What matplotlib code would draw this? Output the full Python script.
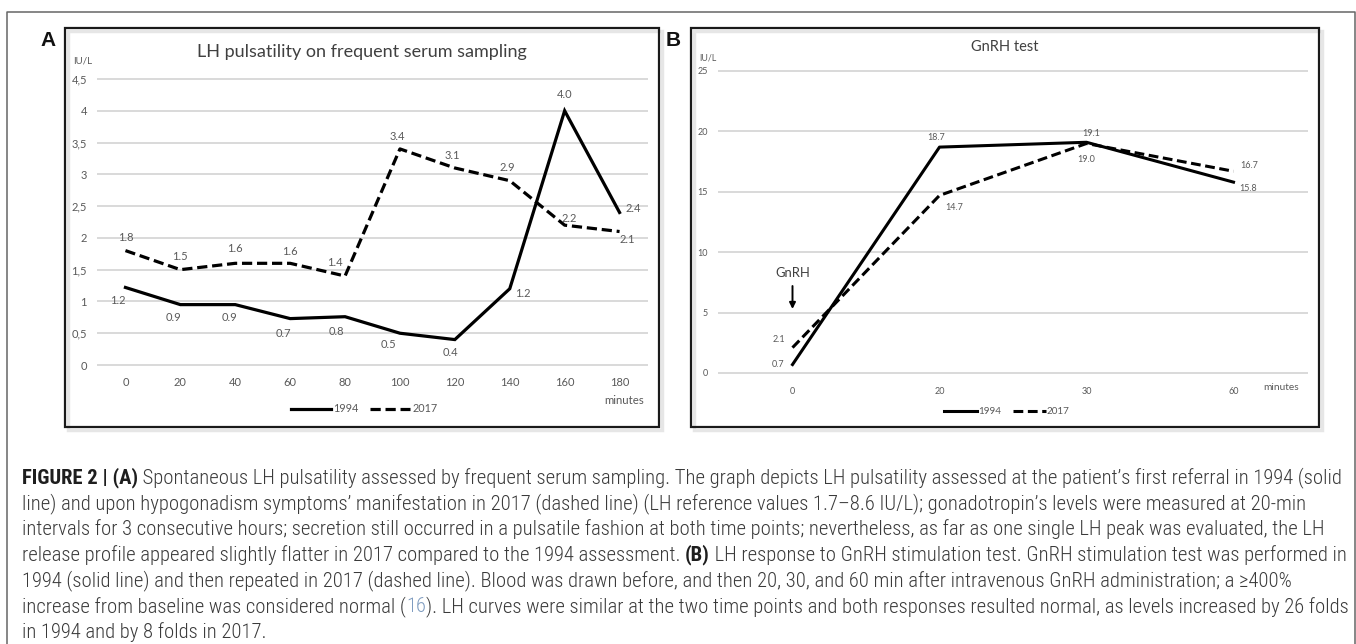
import matplotlib
matplotlib.use("Agg")
import matplotlib.pyplot as plt
from matplotlib.patches import Rectangle
from matplotlib.lines import Line2D
from matplotlib import font_manager

# ---------------- data ----------------
a_minutes = ["0", "20", "40", "60", "80", "100", "120", "140", "160", "180"]
a_lh_1994 = [1.22, 0.95, 0.95, 0.73, 0.76, 0.50, 0.40, 1.20, 4.00, 2.40]
a_lh_2017 = [1.80, 1.50, 1.60, 1.60, 1.40, 3.40, 3.10, 2.90, 2.20, 2.10]
a_labels_1994 = ["1.2", "0.9", "0.9", "0.7", "0.8", "0.5", "0.4", "1.2", "4.0", "2.4"]
a_labels_2017 = ["1.8", "1.5", "1.6", "1.6", "1.4", "3.4", "3.1", "2.9", "2.2", "2.1"]
a_yticks = [0, 0.5, 1, 1.5, 2, 2.5, 3, 3.5, 4, 4.5]
a_ytick_labels = ["0", "0,5", "1", "1,5", "2", "2,5", "3", "3,5", "4", "4,5"]

b_minutes = ["0", "20", "30", "60"]
b_lh_1994 = [0.7, 18.7, 19.1, 15.8]
b_lh_2017 = [2.1, 14.7, 19.0, 16.7]
b_yticks = [0, 5, 10, 15, 20, 25]

series_names = ["1994", "2017"]

# ---------------- layout helpers ----------------
W, H = 1356, 644
fig = plt.figure(figsize=(W / 100, H / 100), dpi=100)
fig.patch.set_facecolor("white")
R = fig.canvas.get_renderer()

def fx(px):
    return px / W

def fy(py):
    return 1 - py / H

fonts = font_manager.fontManager.ttflist
names = {f.name for f in fonts}
CHART_FONT = ["Lato", "DejaVu Sans"]
CAP_FONT = ["Roboto", "DejaVu Sans"]
CAP_STRETCH = "normal"
for cand in ["Roboto Condensed", "Liberation Sans Narrow", "Open Sans Condensed"]:
    if cand in names:
        CAP_FONT = [cand, "DejaVu Sans"]
        break
else:
    if any(f.name == "DejaVu Sans" and f.stretch == "condensed" for f in fonts):
        CAP_FONT = ["DejaVu Sans"]
        CAP_STRETCH = "condensed"
has_light = any(f.name == CAP_FONT[0] and f.weight in (300, "light") for f in fonts)
CAP_NORMAL_WEIGHT = "light" if has_light else "normal"
GRAY = "#595959"
DARK = "#404040"

# outer frame (open at bottom)
fig.add_artist(Line2D([fx(7), fx(7), fx(1354.5), fx(1354.5)],
                      [fy(650), fy(12), fy(12), fy(650)],
                      transform=fig.transFigure, color="#666666", lw=1.1))

# panel boxes
for (x0, x1) in [(65, 659), (691, 1319)]:
    fig.add_artist(Rectangle((fx(x0 + 3), fy(430)), fx(x1 - x0), (430 - 31) / H,
                             transform=fig.transFigure, fill=False,
                             edgecolor="#e6e6e6", lw=2.5))
    fig.add_artist(Rectangle((fx(x0), fy(427)), fx(x1 - x0), (427 - 28) / H,
                             transform=fig.transFigure, fill=False,
                             edgecolor="#1a1a1a", lw=1.6))

fig.text(fx(48), fy(40), "A", fontsize=15, fontweight="bold", ha="center",
         va="center", family=["Liberation Sans", "DejaVu Sans"], color="#111111")
fig.text(fx(673), fy(40), "B", fontsize=15, fontweight="bold", ha="center",
         va="center", family=["Liberation Sans", "DejaVu Sans"], color="#111111")


def fit_width(t, target):
    bb = t.get_window_extent(R)
    t.set_fontsize(t.get_fontsize() * target / bb.width)


def style_axes(ax):
    for s in ax.spines.values():
        s.set_visible(False)
    ax.set_facecolor("none")
    ax.yaxis.grid(True, color="#d9d9d9", lw=1.4)
    ax.set_axisbelow(True)
    ax.tick_params(length=0, colors=GRAY)
    for gl in ax.get_ygridlines():
        gl.set_clip_on(False)


# ---------------- panel A ----------------
axA = fig.add_axes([fx(98), fy(365), (647 - 98) / W, (365 - 79) / H])
xa = list(range(len(a_minutes)))
axA.plot(xa, a_lh_1994, color="black", lw=2.3, solid_joinstyle="miter", clip_on=False)
axA.plot(xa, a_lh_2017, color="black", lw=2.3, ls=(0, (3.2, 1.5)), clip_on=False)
axA.set_xlim(-0.5, len(a_minutes) - 0.5)
axA.set_ylim(0, 4.5)
axA.set_yticks(a_yticks, a_ytick_labels)
axA.set_xticks(xa, a_minutes)
style_axes(axA)
axA.tick_params(axis="y", pad=8, labelsize=8)
axA.tick_params(axis="x", pad=9, labelsize=8)
for lab in axA.get_xticklabels() + axA.get_yticklabels():
    lab.set_family(CHART_FONT)
    lab.set_color(GRAY)

off_a_1994 = [(-8, -13), (-7, -13), (-6, -13), (-7, -15), (-9, -15),
              (-12, -11), (-4, -13), (13, -5), (0, 16), (14, 4)]
off_a_2017 = [(0, 13), (0, 13), (0, 15), (0, 12), (-10, 14),
              (-3, 12), (-3, 12), (-2, 13), (5, 7), (8, -8)]
for i in xa:
    axA.annotate(a_labels_1994[i], (i, a_lh_1994[i]), xytext=off_a_1994[i],
                 textcoords="offset pixels", ha="center", va="center",
                 fontsize=8, color=GRAY, family=CHART_FONT)
    axA.annotate(a_labels_2017[i], (i, a_lh_2017[i]), xytext=off_a_2017[i],
                 textcoords="offset pixels", ha="center", va="center",
                 fontsize=8, color=GRAY, family=CHART_FONT)

tA = fig.text(fx(362), fy(52), "LH pulsatility on frequent serum sampling",
              ha="center", va="center", fontsize=12, color=DARK, family=CHART_FONT)
fit_width(tA, 328)
fig.text(fx(73), fy(61), "IU/L", ha="left", va="center", fontsize=7,
         color=GRAY, family=CHART_FONT)
fig.text(fx(624), fy(401), "minutes", ha="center", va="center", fontsize=8.2,
         color=GRAY, family=CHART_FONT)

handlesA = [Line2D([], [], color="black", lw=2.3),
            Line2D([], [], color="black", lw=2.3, ls=(0, (3.2, 1.5)))]
legA = axA.legend(handlesA, series_names, loc="center",
                  bbox_to_anchor=(fx(364), fy(409)), bbox_transform=fig.transFigure,
                  ncol=2, frameon=False, fontsize=7.8, handlelength=3.7,
                  handletextpad=0.2, columnspacing=1.1, borderpad=0)
for t in legA.get_texts():
    t.set_color(GRAY)
    t.set_family(CHART_FONT)

# ---------------- panel B ----------------
axB = fig.add_axes([fx(719), fy(373), (1307 - 719) / W, (373 - 71) / H])
xb = list(range(len(b_minutes)))
axB.plot(xb, b_lh_1994, color="black", lw=2.2, clip_on=False)
axB.plot(xb, b_lh_2017, color="black", lw=2.2, ls=(0, (3.2, 1.5)), clip_on=False)
axB.set_xlim(-0.5, len(b_minutes) - 0.5)
axB.set_ylim(0, 25)
axB.set_yticks(b_yticks, [str(v) for v in b_yticks])
axB.set_xticks(xb, b_minutes)
style_axes(axB)
axB.tick_params(axis="y", pad=8, labelsize=6.5)
axB.tick_params(axis="x", pad=10, labelsize=6.5)
for lab in axB.get_xticklabels() + axB.get_yticklabels():
    lab.set_family(CHART_FONT)
    lab.set_color(GRAY)

off_b_1994 = [(-14, 0), (-3, 10), (5, 9), (15, -6)]
off_b_2017 = [(-14, 8), (15, -12), (0, -16), (16, 6)]
for i in xb:
    axB.annotate(f"{b_lh_1994[i]:.1f}", (i, b_lh_1994[i]), xytext=off_b_1994[i],
                 textcoords="offset pixels", ha="center", va="center",
                 fontsize=6.5, color=GRAY, family=CHART_FONT)
    axB.annotate(f"{b_lh_2017[i]:.1f}", (i, b_lh_2017[i]), xytext=off_b_2017[i],
                 textcoords="offset pixels", ha="center", va="center",
                 fontsize=6.5, color=GRAY, family=CHART_FONT)

axB.annotate("", xy=(0, 5.3), xytext=(0, 7.2),
             arrowprops=dict(arrowstyle="-|>", color="black", lw=1.4,
                             mutation_scale=9, shrinkA=0, shrinkB=0))
tG = axB.text(0, 8.3, "GnRH", ha="center", va="center", fontsize=9,
              color=DARK, family=CHART_FONT)
fit_width(tG, 35)

tB = fig.text(fx(1005), fy(47), "GnRH test", ha="center", va="center",
              fontsize=10, color=DARK, family=CHART_FONT)
fit_width(tB, 67)
fig.text(fx(699), fy(58), "IU/L", ha="left", va="center", fontsize=6.3,
         color=GRAY, family=CHART_FONT)
fig.text(fx(1281), fy(388), "minutes", ha="center", va="center", fontsize=7.3,
         color=GRAY, family=CHART_FONT)

handlesB = [Line2D([], [], color="black", lw=2.2),
            Line2D([], [], color="black", lw=2.2, ls=(0, (3.2, 1.5)))]
legB = axB.legend(handlesB, series_names, loc="center",
                  bbox_to_anchor=(fx(1007), fy(412)), bbox_transform=fig.transFigure,
                  ncol=2, frameon=False, fontsize=7.1, handlelength=3.3,
                  handletextpad=0.15, columnspacing=1.2, borderpad=0)
for t in legB.get_texts():
    t.set_color(GRAY)
    t.set_family(CHART_FONT)

# ---------------- caption ----------------
CAP_COLOR = "#3a3a3a"
BOLD_COLOR = "#1e1e1e"
LINK_COLOR = "#7f9cc0"

caption_lines = [
    [("FIGURE 2 | (A)", "b"), (" Spontaneous LH pulsatility assessed by frequent serum sampling. The graph depicts LH pulsatility assessed at the patient\u2019s first referral in 1994 (solid", "n")],
    [("line) and upon hypogonadism symptoms\u2019 manifestation in 2017 (dashed line) (LH reference values 1.7\u20138.6 IU/L); gonadotropin\u2019s levels were measured at 20-min", "n")],
    [("intervals for 3 consecutive hours; secretion still occurred in a pulsatile fashion at both time points; nevertheless, as far as one single LH peak was evaluated, the LH", "n")],
    [("release profile appeared slightly flatter in 2017 compared to the 1994 assessment. ", "n"), ("(B)", "b"), (" LH response to GnRH stimulation test. GnRH stimulation test was performed in", "n")],
    [("1994 (solid line) and then repeated in 2017 (dashed line). Blood was drawn before, and then 20, 30, and 60 min after intravenous GnRH administration; a \u2265400%", "n")],
    [("increase from baseline was considered normal (", "n"), ("16", "l"), ("). LH curves were similar at the two time points and both responses resulted normal, as levels increased by 26 folds", "n")],
    [("in 1994 and by 8 folds in 2017.", "n")],
]


def draw_line(segs, x0, y, size, keep=True):
    x = x0
    arts = []
    for txt, st in segs:
        t = fig.text(fx(x), fy(y), txt, fontsize=size, ha="left", va="center",
                     family=CAP_FONT, fontstretch=CAP_STRETCH,
                     fontweight="bold" if st == "b" else CAP_NORMAL_WEIGHT,
                     color=BOLD_COLOR if st == "b" else (LINK_COLOR if st == "l" else CAP_COLOR))
        w = t.get_window_extent(R).width
        x += w
        arts.append(t)
    if not keep:
        for a in arts:
            a.remove()
    return x - x0

w0 = draw_line(caption_lines[0], 22, 478, 12, keep=False)
cap_size = 12 * (1339 - 22) / w0
for k, segs in enumerate(caption_lines):
    draw_line(segs, 22, 478 + 25.7 * k, cap_size)

fig.savefig("out.png", dpi=100, facecolor="white")
